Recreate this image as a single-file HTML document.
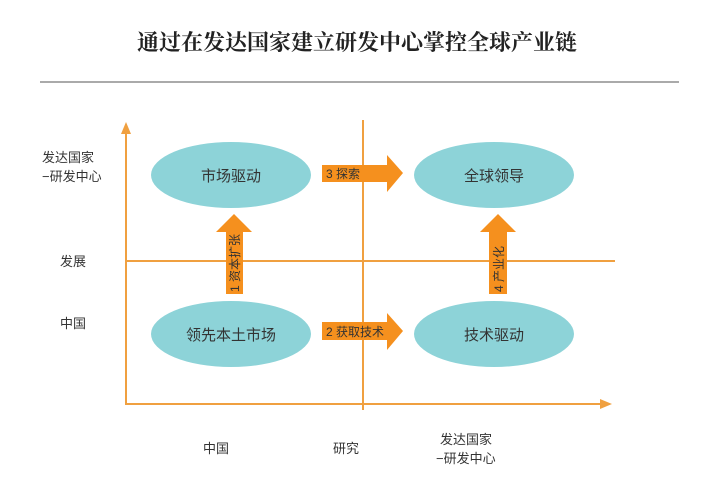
<!DOCTYPE html>
<html><head><meta charset="utf-8"><style>
html,body{margin:0;padding:0;background:#fff;}
body{width:721px;height:498px;overflow:hidden;position:relative;}
svg{position:absolute;left:0;top:0;}
</style></head><body>
<svg width="721" height="498" viewBox="0 0 721 498" xmlns="http://www.w3.org/2000/svg">
<text x="357" y="50" text-anchor="middle" font-family="Liberation Serif, Noto Serif CJK SC, serif" font-size="22" font-weight="bold" fill="#222">通过在发达国家建立研发中心掌控全球产业链</text>
<line x1="40" y1="82" x2="679" y2="82" stroke="#aaa" stroke-width="2"/>
<g stroke="#f0a040" stroke-width="2" fill="none">
<line x1="126" y1="128" x2="126" y2="405"/>
<line x1="126" y1="404" x2="605" y2="404"/>
<line x1="363" y1="120" x2="363" y2="410"/>
<line x1="126" y1="261" x2="615" y2="261"/>
</g>
<polygon points="126,122 121,134 131,134" fill="#f0a040"/>
<polygon points="612,404 600,399 600,409" fill="#f0a040"/>
<g fill="#8dd3d8">
<ellipse cx="231" cy="175" rx="80" ry="33"/>
<ellipse cx="494" cy="175" rx="80" ry="33"/>
<ellipse cx="231" cy="334" rx="80" ry="33"/>
<ellipse cx="494" cy="334" rx="80" ry="33"/>
</g>
<g font-family="Liberation Sans, Noto Sans CJK SC, sans-serif" font-size="15" fill="#333" text-anchor="middle">
<text x="231" y="181">市场驱动</text>
<text x="494" y="181">全球领导</text>
<text x="231" y="340">领先本土市场</text>
<text x="494" y="340">技术驱动</text>
</g>
<g fill="#f5901e">
<polygon points="322,165 387,165 387,155 403,173 387,192 387,182 322,182"/>
<polygon points="322,322 387,322 387,313 403,331 387,350 387,340 322,340"/>
<polygon points="226,294 226,232 216,232 234,214 252,232 243,232 243,294"/>
<polygon points="489,294 489,232 480,232 498,214 516,232 507,232 507,294"/>
</g>
<g font-family="Liberation Sans, Noto Sans CJK SC, sans-serif" font-size="12" fill="#333">
<text x="326" y="178">3 探索</text>
<text x="326" y="336">2 获取技术</text>
<text transform="translate(239,292) rotate(-90)">1 资本扩张</text>
<text transform="translate(503,292) rotate(-90)">4 产业化</text>
</g>
<g font-family="Liberation Sans, Noto Sans CJK SC, sans-serif" font-size="13" fill="#333">
<text x="42" y="162">发达国家</text>
<text x="42" y="181">−研发中心</text>
<text x="60" y="266">发展</text>
<text x="60" y="328">中国</text>
<text x="203" y="453">中国</text>
<text x="333" y="453">研究</text>
<text x="440" y="444">发达国家</text>
<text x="436" y="463">−研发中心</text>
</g>
</svg>
</body></html>
